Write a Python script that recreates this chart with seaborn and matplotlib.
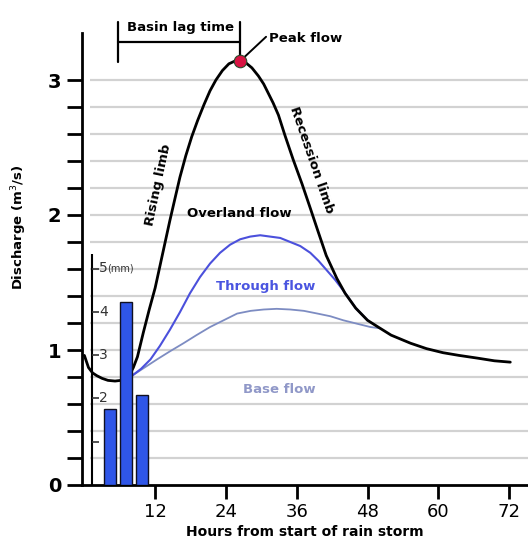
import matplotlib
matplotlib.use("Agg")
import matplotlib.pyplot as plt
import seaborn as sns
import numpy as np

# storm hydrograph, values
total_hours = [0, 0.7, 1.4, 2.1, 3.0, 4.0, 5.2, 6.2, 7.0, 7.7, 8.3, 9.0, 10.0, 11.0, 12.0,
               12.9, 13.7, 14.5, 15.4, 16.2, 17.2, 18.2, 19.2, 20.3, 21.3, 22.3, 23.4,
               24.5, 25.5, 26.4, 27.3, 28.4, 29.5, 30.4, 31.2, 32.0, 32.9, 34.0, 35.4,
               36.9, 38.3, 39.6, 41.0, 42.8, 44.2, 46.0, 48.0, 49.8, 52.0, 55.3, 58.0,
               60.8, 63.5, 66.6, 69.5, 72.2]
total_q = [0.96, 0.87, 0.83, 0.81, 0.79, 0.775, 0.77, 0.775, 0.79, 0.82, 0.87, 0.95, 1.13,
           1.30, 1.46, 1.64, 1.80, 1.96, 2.13, 2.28, 2.44, 2.58, 2.70, 2.82, 2.92, 3.00,
           3.07, 3.12, 3.14, 3.14, 3.13, 3.09, 3.03, 2.97, 2.90, 2.83, 2.74, 2.59, 2.41,
           2.23, 2.05, 1.88, 1.70, 1.53, 1.42, 1.31, 1.22, 1.17, 1.11, 1.05, 1.01,
           0.98, 0.96, 0.94, 0.92, 0.91]

through_hours = [8.1, 9.6, 11.2, 12.8, 14.5, 16.2, 17.9, 19.6, 21.3, 23.0, 24.7, 26.4,
                 28.1, 29.8, 31.5, 33.2, 34.9, 36.6, 38.3, 39.7, 41.1, 42.5, 43.9, 46.0, 48.0]
through_q = [0.81, 0.86, 0.93, 1.03, 1.15, 1.28, 1.42, 1.54, 1.64, 1.72, 1.78, 1.82,
             1.84, 1.85, 1.84, 1.83, 1.80, 1.77, 1.72, 1.66, 1.59, 1.52, 1.44, 1.31, 1.22]

base_hours = [8.1, 10.2, 12.3, 14.5, 16.8, 19.0, 21.3, 23.6, 25.9, 28.2, 30.4, 32.6,
              34.9, 37.2, 39.5, 41.7, 43.9, 46.2, 48.5, 50.2]
base_q = [0.81, 0.87, 0.93, 0.99, 1.05, 1.11, 1.17, 1.22, 1.27, 1.29, 1.30, 1.305,
          1.30, 1.29, 1.27, 1.25, 1.22, 1.195, 1.17, 1.16]

rain_hours = [4.4, 7.1, 9.8]
rain_mm = [1.76, 4.23, 2.08]
rain_ticks = [1, 2, 3, 4, 5]
rain_labels = ["", "2", "3", "4", "5"]

peak_hour, peak_q = 26.4, 3.14
x_ticks = [12, 24, 36, 48, 60, 72]
y_major = [0, 1, 2, 3]

sns.set_style("white")
plt.rcParams["font.family"] = ["DejaVu Sans"]
plt.rcParams["text.color"] = "black"
plt.rcParams["axes.labelcolor"] = "black"
plt.rcParams["xtick.color"] = "black"
plt.rcParams["ytick.color"] = "black"

fig = plt.figure(figsize=(5.28, 5.46), dpi=100)
ax = fig.add_axes([82 / 528, 1 - 485 / 546, 446 / 528, 452 / 546])
ax.set_xlim(-0.4, 75.2)
ax.set_ylim(0, 452 / 135)

# light grid lines
grid_levels = np.arange(0.2, 3.01, 0.2)
ax.hlines(grid_levels, 0.9, 75.2, color="#d2d2d2", lw=1.6, zorder=0)

# rainfall on its own scale
ax2 = ax.twinx()
ax2.set_ylim(0, 452 / 43.3)
ax2.set_xlim(ax.get_xlim())
ax2.axis("off")
ax2.bar(rain_hours, rain_mm, width=2.0, color="#2f56e8", edgecolor="#101020", lw=1.0, zorder=2)
ax2.vlines(1.35, 0, 5.33, color="black", lw=1.5)
ax2.hlines(rain_ticks, 1.35, 2.4, color="#333333", lw=1.2)
for t, lab in zip(rain_ticks, rain_labels):
    if lab:
        ax2.text(2.55, t, lab, fontsize=10, color="#333333", va="center", ha="left")
ax2.text(3.9, 5.0, "(mm)", fontsize=7, color="#333333", va="center", ha="left")

# flow curves
sns.lineplot(x=base_hours, y=base_q, ax=ax, color="#7d8cc2", lw=1.3, zorder=3)
sns.lineplot(x=through_hours, y=through_q, ax=ax, color="#4b50dc", lw=1.5, zorder=4)
sns.lineplot(x=total_hours, y=total_q, ax=ax, color="black", lw=2.0, zorder=5)
ax.plot(peak_hour, peak_q, "o", ms=9, color="#d81443", mec="#2a4a2a", mew=0.8, zorder=7)

# basin lag bracket and peak annotation
ax.plot([5.7, 5.7], [3.43, 3.13], color="black", lw=1.6, clip_on=False)
ax.plot([5.7, peak_hour], [3.28, 3.28], color="black", lw=1.6, clip_on=False)
ax.plot([peak_hour, peak_hour], [3.43, peak_q], color="black", lw=1.6, clip_on=False)
ax.plot([peak_hour, 30.8], [peak_q, 3.32], color="black", lw=1.4, zorder=6)
ax.text(16.3, 3.39, "Basin lag time", fontsize=9.5, fontweight="bold", ha="center", va="center")
ax.text(31.3, 3.31, "Peak flow", fontsize=9.5, fontweight="bold", ha="left", va="center")

ax.text(12.6, 2.22, "Rising limb", fontsize=9.5, fontweight="bold", rotation=78,
        ha="center", va="center")
ax.text(38.6, 2.41, "Recession limb", fontsize=9.5, fontweight="bold", rotation=-71,
        ha="center", va="center")
ax.text(26.3, 2.01, "Overland flow", fontsize=9.5, fontweight="bold", ha="center", va="center")
ax.text(30.8, 1.47, "Through flow", fontsize=9.5, fontweight="bold", color="#4a55e0",
        ha="center", va="center")
ax.text(33.0, 0.71, "Base flow", fontsize=9.5, fontweight="bold", color="#9098c8",
        ha="center", va="center")

# axes styling
for side in ["top", "right"]:
    ax.spines[side].set_visible(False)
ax.spines["left"].set_linewidth(2)
ax.spines["bottom"].set_linewidth(2)
ax.spines["left"].set_color("black")
ax.spines["bottom"].set_color("black")

ax.set_xticks(x_ticks)
ax.set_xticklabels([str(v) for v in x_ticks], fontsize=13)
ax.set_yticks(y_major)
ax.set_yticklabels([str(v) for v in y_major], fontsize=14, fontweight="bold")
ax.set_yticks(np.arange(0, 3.01, 0.2), minor=True)
ax.tick_params(axis="x", direction="out", length=10, width=2, pad=3, bottom=True)
ax.tick_params(axis="y", which="both", direction="out", length=11, width=2, pad=4, left=True)

ax.set_xlabel("Hours from start of rain storm", fontsize=10, fontweight="bold", labelpad=3)
ax.set_ylabel("Discharge (m$^3$/s)", fontsize=9.5, fontweight="bold")
ax.yaxis.set_label_coords(-0.118, (485 - 227) / 452)

fig.savefig("out.png", dpi=100)
plt.close(fig)
